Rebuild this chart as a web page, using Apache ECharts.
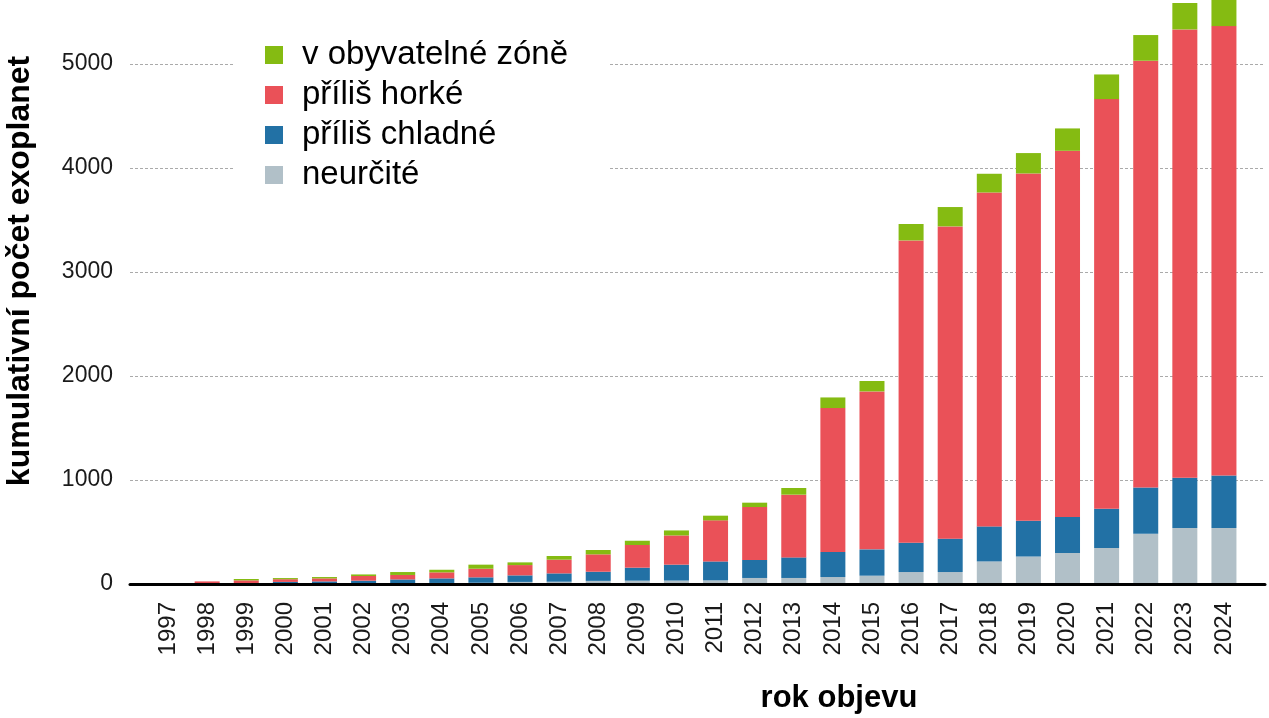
<!DOCTYPE html>
<html>
<head>
<meta charset="utf-8">
<script src="https://cdn.jsdelivr.net/npm/echarts@6/dist/echarts.min.js"></script>
<style>
  html, body { margin: 0; padding: 0; background: #ffffff; }
  #chart { width: 1269px; height: 718px; }
</style>
</head>
<body>
<div id="chart"></div>
<script>
// Categories (rok objevu)
const years = ['1997','1998','1999','2000','2001','2002','2003','2004','2005','2006','2007','2008','2009','2010',
               '2011','2012','2013','2014','2015','2016','2017','2018','2019','2020','2021','2022','2023','2024'];
// Stacked segments, bottom to top
const neurcite      = [0, 0, 1, 2, 3, 4, 8, 10, 12, 20, 22, 30, 32, 33, 35, 58, 58, 67, 80, 115, 115, 217, 265, 298, 346, 484, 538, 538];
const prilisChladne = [0, 2, 8, 18, 22, 28, 36, 44, 52, 63, 80, 88, 125, 153, 182, 173, 198, 241, 253, 282, 321, 337, 344, 346, 378, 445, 484, 506];
const prilisHorke   = [2, 23, 26, 26, 29, 45, 43, 58, 83, 99, 132, 167, 218, 281, 395, 509, 603, 1384, 1519, 2907, 3003, 3211, 3339, 3522, 3939, 4103, 4311, 4321];
const obyvatelna    = [0, 0, 13, 11, 13, 15, 28, 25, 39, 26, 35, 42, 41, 48, 45, 42, 64, 102, 100, 158, 186, 180, 196, 215, 237, 247, 254, 260];
// Tick values of the y axis
const yTicks = [0, 1000, 2000, 3000, 4000, 5000];

const names = {
  hab: 'v obyvatelné zóně',
  hot: 'příliš horké',
  cold: 'příliš chladné',
  und: 'neurčité'
};
const colors = { hab: '#85bb12', hot: '#ea5158', cold: '#2271a5', und: '#b1c0c8' };

const chart = echarts.init(document.getElementById('chart'), null, { renderer: 'canvas' });
const FONT = '"Liberation Sans", Arial, Helvetica, sans-serif';
const yMax = 5616;

function bar(name, key, data) {
  return {
    name: name,
    type: 'bar',
    stack: 'total',
    xAxisIndex: 1,
    yAxisIndex: 1,
    barWidth: 25,
    clip: true,
    itemStyle: { color: colors[key] },
    emphasis: { disabled: true },
    data: data
  };
}

chart.setOption({
  animation: false,
  backgroundColor: '#ffffff',
  textStyle: { fontFamily: FONT },
  grid: [
    { left: 130, right: 4, top: 0, bottom: 134 },
    { left: 148.5, right: 25.5, top: 0, bottom: 134 }
  ],
  xAxis: [
    {
      gridIndex: 0, type: 'value', min: 0, max: 1, z: 6,
      axisLine: { show: true, onZero: false, lineStyle: { color: '#000000', width: 3 } },
      axisTick: { show: false }, axisLabel: { show: false }, splitLine: { show: false }
    },
    {
      gridIndex: 1, type: 'category', data: years,
      axisLine: { show: false }, axisTick: { show: false },
      axisLabel: {
        rotate: 90, margin: 18, interval: 0,
        fontFamily: FONT, fontSize: 24, color: '#1a1a1a'
      }
    }
  ],
  yAxis: [
    {
      gridIndex: 0, type: 'value', min: 0, max: yMax, interval: 1000,
      axisLine: { show: false }, axisTick: { show: false },
      axisLabel: {
        margin: 17, fontFamily: FONT, fontSize: 23, color: '#1a1a1a', showMaxLabel: false,
        formatter: function (v) { return yTicks.indexOf(v) >= 0 ? String(v) : ''; }
      },
      splitLine: { show: true, showMaxLine: false, lineStyle: { color: '#aaaaaa', width: 1, type: [3, 2] } }
    },
    {
      gridIndex: 1, type: 'value', min: 0, max: yMax, interval: 1000,
      show: false, splitLine: { show: false }
    }
  ],
  legend: {
    orient: 'vertical',
    left: 233, top: 20,
    padding: [15, 40, 15, 32],
    backgroundColor: '#ffffff',
    itemWidth: 18, itemHeight: 18, itemGap: 0,
    icon: 'rect',
    data: [names.hab, names.hot, names.cold, names.und],
    textStyle: { fontFamily: FONT, fontSize: 33, color: '#000000', lineHeight: 40, padding: [0, 0, 0, 14] },
    selectedMode: false
  },
  graphic: [
    {
      type: 'text',
      x: 839, y: 698,
      style: { text: 'rok objevu', font: 'bold 31px ' + FONT, fill: '#000000', align: 'center', verticalAlign: 'middle' }
    },
    {
      type: 'text',
      x: 20, y: 271,
      rotation: Math.PI / 2,
      style: { text: 'kumulativní počet exoplanet', font: 'bold 32px ' + FONT, fill: '#000000', align: 'center', verticalAlign: 'middle' }
    }
  ],
  series: [
    bar(names.und, 'und', neurcite),
    bar(names.cold, 'cold', prilisChladne),
    bar(names.hot, 'hot', prilisHorke),
    bar(names.hab, 'hab', obyvatelna)
  ]
});
</script>
</body>
</html>
